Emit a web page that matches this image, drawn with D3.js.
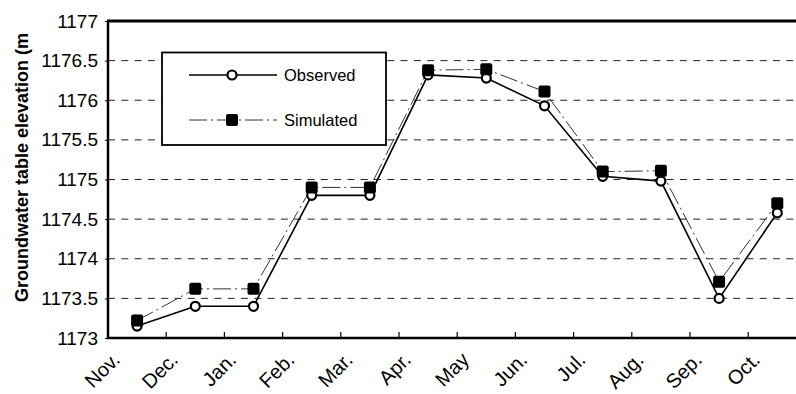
<!DOCTYPE html>
<html><head><meta charset="utf-8">
<script src="https://cdn.jsdelivr.net/npm/d3@7/dist/d3.min.js"></script>
<style>html,body{margin:0;padding:0;background:#fff;overflow:hidden}svg{display:block}</style>
</head><body>
<svg id="c" width="796" height="394"></svg>
<script>
const months = ["Nov.","Dec.","Jan.","Feb.","Mar.","Apr.","May","Jun.","Jul.","Aug.","Sep.","Oct."];
const observed = [1173.15,1173.40,1173.40,1174.80,1174.80,1176.32,1176.28,1175.93,1175.04,1174.98,1173.50,1174.58];
const simulated = [1173.22,1173.62,1173.62,1174.90,1174.90,1176.38,1176.39,1176.11,1175.10,1175.11,1173.71,1174.70];
const yTicks = [1173,1173.5,1174,1174.5,1175,1175.5,1176,1176.5,1177];
const gridVals = [1173.5,1174,1174.5,1175,1175.5,1176,1176.5];
const yTitle = "Groundwater table elevation (m";
const seriesNames = ["Observed","Simulated"];

const svg = d3.select("#c");
const L = 108, T = 21, B = 338, R = 806.4;
const x = d3.scaleBand().domain(months).range([L, R]).padding(0);
const y = d3.scaleLinear().domain([1173,1177]).range([B, T]);
const cx = d => x(d) + x.bandwidth()/2;
const FONT = "Liberation Sans, Arial, sans-serif";

// gridlines
svg.append("g").selectAll("line").data(gridVals).join("line")
  .attr("x1", L).attr("x2", 796).attr("y1", d=>y(d)).attr("y2", d=>y(d))
  .attr("stroke", "#222").attr("stroke-width", 1).attr("stroke-dasharray", "7,6.3");

// top border
svg.append("line").attr("x1", L-1).attr("x2", 796).attr("y1", T).attr("y2", T)
  .attr("stroke", "#000").attr("stroke-width", 3);

// y axis
const ya = svg.append("g").attr("transform", `translate(${L},0)`)
  .call(d3.axisLeft(y).tickValues(yTicks).tickSize(3).tickPadding(7).tickFormat(d=>String(d)));
ya.select(".domain").attr("stroke-width", 2.5).attr("d", `M0,${T}V${B}`);
ya.selectAll(".tick line").attr("stroke-width", 1);
ya.selectAll("text").attr("font-family", FONT).attr("font-size", 19).attr("fill", "#000");

// x axis
svg.append("line").attr("x1", L-1).attr("x2", 796).attr("y1", B).attr("y2", B)
  .attr("stroke", "#000").attr("stroke-width", 2.5);
svg.append("g").selectAll("line").data(months).join("line")
  .attr("x1", d=>x(d)).attr("x2", d=>x(d)).attr("y1", B).attr("y2", B-6)
  .attr("stroke", "#000").attr("stroke-width", 1.2);
svg.append("g").selectAll("text").data(months).join("text")
  .attr("transform", d=>`translate(${cx(d)-16},${B+23}) rotate(-45)`)
  .attr("text-anchor", "end")
  .attr("font-family", FONT).attr("font-size", 20)
  .text(d=>d);

// y title
svg.append("text").attr("transform", `translate(28,302) rotate(-90)`)
  .attr("font-family", FONT).attr("font-size", 18).attr("font-weight", "bold")
  .text(yTitle);

// lines
const line = d3.line().x((d,i)=>cx(months[i])).y(d=>y(d));
svg.append("path").datum(observed).attr("d", line).attr("fill","none")
  .attr("stroke","#000").attr("stroke-width",1.6);
svg.append("path").datum(simulated).attr("d", line).attr("fill","none")
  .attr("stroke","#333").attr("stroke-width",1).attr("stroke-dasharray","18,4,2,4");

// markers
svg.append("g").selectAll("circle").data(observed).join("circle")
  .attr("cx",(d,i)=>cx(months[i])).attr("cy",d=>y(d)).attr("r",4.5)
  .attr("fill","#fff").attr("stroke","#000").attr("stroke-width",2.2);
svg.append("g").selectAll("rect").data(simulated).join("rect")
  .attr("x",(d,i)=>cx(months[i])-6).attr("y",d=>y(d)-6).attr("width",12).attr("height",12)
  .attr("rx",2).attr("fill","#000");

// legend
const lg = svg.append("g");
lg.append("rect").attr("x",162).attr("y",52.5).attr("width",224).attr("height",92.5)
  .attr("fill","#fff").attr("stroke","#000").attr("stroke-width",1.8);
const rows = [75, 120];
lg.append("line").attr("x1",189).attr("x2",277).attr("y1",rows[0]).attr("y2",rows[0])
  .attr("stroke","#000").attr("stroke-width",1.6);
lg.append("line").attr("x1",189).attr("x2",277).attr("y1",rows[1]).attr("y2",rows[1])
  .attr("stroke","#333").attr("stroke-width",1).attr("stroke-dasharray","18,4,2,4");
lg.append("circle").attr("cx",232).attr("cy",rows[0]).attr("r",4.5)
  .attr("fill","#fff").attr("stroke","#000").attr("stroke-width",2.2);
lg.append("rect").attr("x",226).attr("y",rows[1]-6).attr("width",12).attr("height",12).attr("rx",2).attr("fill","#000");
lg.selectAll("text").data(seriesNames).join("text")
  .attr("x",284).attr("y",(d,i)=>rows[i]+6)
  .attr("font-family",FONT).attr("font-size",16.5)
  .text(d=>d);
</script>
</body></html>
